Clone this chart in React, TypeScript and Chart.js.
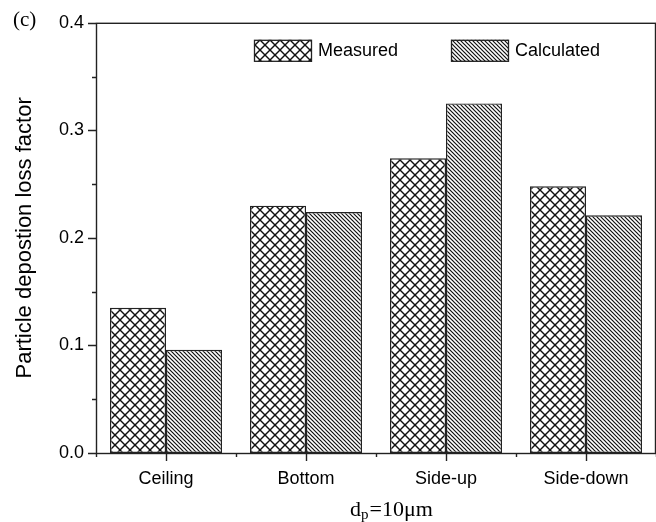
import React, { useEffect, useRef } from 'react';
import { Chart, registerables } from 'chart.js';

Chart.register(...registerables);

const categories = ['Ceiling', 'Bottom', 'Side-up', 'Side-down'];
const measured = [0.135, 0.23, 0.274, 0.248];
const calculated = [0.096, 0.224, 0.325, 0.221];
const seriesNames = ['Measured', 'Calculated'];
const yMajorTicks = [0, 0.1, 0.2, 0.3, 0.4];
const yMinorTicks = [0.05, 0.15, 0.25, 0.35];
const yTitle = 'Particle depostion loss factor';
const xTitleBase = 'd';
const xTitleSub = 'p';
const xTitleRest = '=10μm';
const panelLabel = '(c)';

const SANS = '"Liberation Sans", Arial, sans-serif';
const SERIF = '"Liberation Serif", "Times New Roman", serif';

function makeCross(ctx: CanvasRenderingContext2D) {
  const s = 10;
  const c = document.createElement('canvas');
  c.width = s; c.height = s;
  const g = c.getContext('2d')!;
  g.fillStyle = '#fff'; g.fillRect(0, 0, s, s);
  g.strokeStyle = '#111'; g.lineWidth = 1.4;
  for (const k of [-s, 0, s]) {
    g.beginPath(); g.moveTo(-2, -2 + k); g.lineTo(s + 2, s + 2 + k); g.stroke();
    g.beginPath(); g.moveTo(-2, s + 2 + k); g.lineTo(s + 2, -2 + k); g.stroke();
  }
  return ctx.createPattern(c, 'repeat')!;
}

function makeDiag(ctx: CanvasRenderingContext2D) {
  const s = 4;
  const c = document.createElement('canvas');
  c.width = s; c.height = s;
  const g = c.getContext('2d')!;
  g.fillStyle = '#fff'; g.fillRect(0, 0, s, s);
  g.strokeStyle = '#111'; g.lineWidth = 1.2;
  for (const k of [-s, 0, s]) {
    g.beginPath(); g.moveTo(-2, -2 + k); g.lineTo(s + 2, s + 2 + k); g.stroke();
  }
  return ctx.createPattern(c, 'repeat')!;
}

export default function App() {
  const ref = useRef<HTMLCanvasElement | null>(null);

  useEffect(() => {
    const canvas = ref.current!;
    const ctx = canvas.getContext('2d')!;
    const cross = makeCross(ctx);
    const diag = makeDiag(ctx);
    const fills = [cross, diag];

    const framePlugin = {
      id: 'frame',
      afterDraw(chart: any) {
        const c = chart.ctx as CanvasRenderingContext2D;
        const { left, right, top, bottom } = chart.chartArea;
        const xs = chart.scales.x;
        const ys = chart.scales.y;
        c.save();
        c.strokeStyle = '#222';
        c.lineWidth = 1.4;
        c.strokeRect(left + 0.5, top + 0.5, right - left - 1, bottom - top);
        c.beginPath();
        for (const v of yMajorTicks) {
          const y = Math.round(ys.getPixelForValue(v)) + 0.5;
          c.moveTo(left - 8, y); c.lineTo(left, y);
        }
        for (const v of yMinorTicks) {
          const y = Math.round(ys.getPixelForValue(v)) + 0.5;
          c.moveTo(left - 4, y); c.lineTo(left, y);
        }
        const cw = (right - left) / categories.length;
        categories.forEach((_, i) => {
          const x = Math.round(xs.getPixelForValue(i)) + 0.5;
          c.moveTo(x, bottom); c.lineTo(x, bottom + 8);
        });
        for (let i = 0; i <= categories.length; i++) {
          const x = Math.round(left + i * cw) + 0.5;
          c.moveTo(x, bottom); c.lineTo(x, bottom + 4);
        }
        c.stroke();

        // legend
        const lx = [left + 158, left + 355];
        const ly = top + 17;
        c.font = `18px ${SANS}`;
        c.textBaseline = 'middle';
        c.textAlign = 'left';
        seriesNames.forEach((name, i) => {
          c.fillStyle = fills[i];
          c.fillRect(lx[i], ly, 58, 22);
          c.lineWidth = 1.3;
          c.strokeStyle = '#222';
          c.strokeRect(lx[i] + 0.5, ly + 0.5, 57, 21);
          c.fillStyle = '#000';
          c.fillText(name, lx[i] + 64, ly + 11);
        });

        // x title with subscript
        c.textBaseline = 'alphabetic';
        c.fillStyle = '#000';
        let tx = 350;
        const ty = 516;
        c.font = `22px ${SERIF}`;
        c.fillText(xTitleBase, tx, ty);
        tx += c.measureText(xTitleBase).width;
        c.font = `15px ${SERIF}`;
        c.fillText(xTitleSub, tx, ty + 3);
        tx += c.measureText(xTitleSub).width + 1;
        c.font = `22px ${SERIF}`;
        c.fillText(xTitleRest, tx, ty);

        // panel label
        c.font = `21px ${SERIF}`;
        c.fillText(panelLabel, 13, 26);
        c.restore();
      },
    };

    const chart = new Chart(canvas, {
      type: 'bar',
      data: {
        labels: categories,
        datasets: [
          {
            label: seriesNames[0],
            data: measured,
            backgroundColor: cross,
            borderColor: '#222',
            borderWidth: 1.4,
            borderSkipped: false,
            barPercentage: 1,
            categoryPercentage: 0.8,
          },
          {
            label: seriesNames[1],
            data: calculated,
            backgroundColor: diag,
            borderColor: '#222',
            borderWidth: 1.4,
            borderSkipped: false,
            barPercentage: 1,
            categoryPercentage: 0.8,
          },
        ],
      },
      options: {
        responsive: false,
        animation: false,
        devicePixelRatio: 1,
        layout: { padding: { top: 18, right: 0, left: 0, bottom: 0 } },
        plugins: { legend: { display: false }, tooltip: { enabled: false } },
        scales: {
          x: {
            grid: { display: false, drawTicks: false },
            border: { display: false },
            ticks: { color: '#000', font: { size: 18, family: SANS }, padding: 15, maxRotation: 0 },
            afterFit: (s: any) => { s.height = 69; },
          },
          y: {
            min: 0,
            max: 0.4,
            grid: { display: false, drawTicks: false },
            border: { display: false },
            ticks: {
              stepSize: 0.1,
              color: '#000',
              font: { size: 18, family: SANS },
              padding: 12,
              callback: (v: any) => Number(v).toFixed(1),
            },
            title: {
              display: true,
              text: yTitle,
              color: '#000',
              font: { size: 22, family: SANS },
              padding: { top: 12, bottom: 0 },
            },
            afterFit: (s: any) => { s.width = 96; },
          },
        },
      },
      plugins: [framePlugin],
    });
    return () => chart.destroy();
  }, []);

  return (
    <div style={{ position: 'absolute', left: 0, top: 0, width: 656, height: 522, background: '#fff' }}>
      <canvas ref={ref} width={656} height={522} style={{ display: 'block' }} />
    </div>
  );
}
